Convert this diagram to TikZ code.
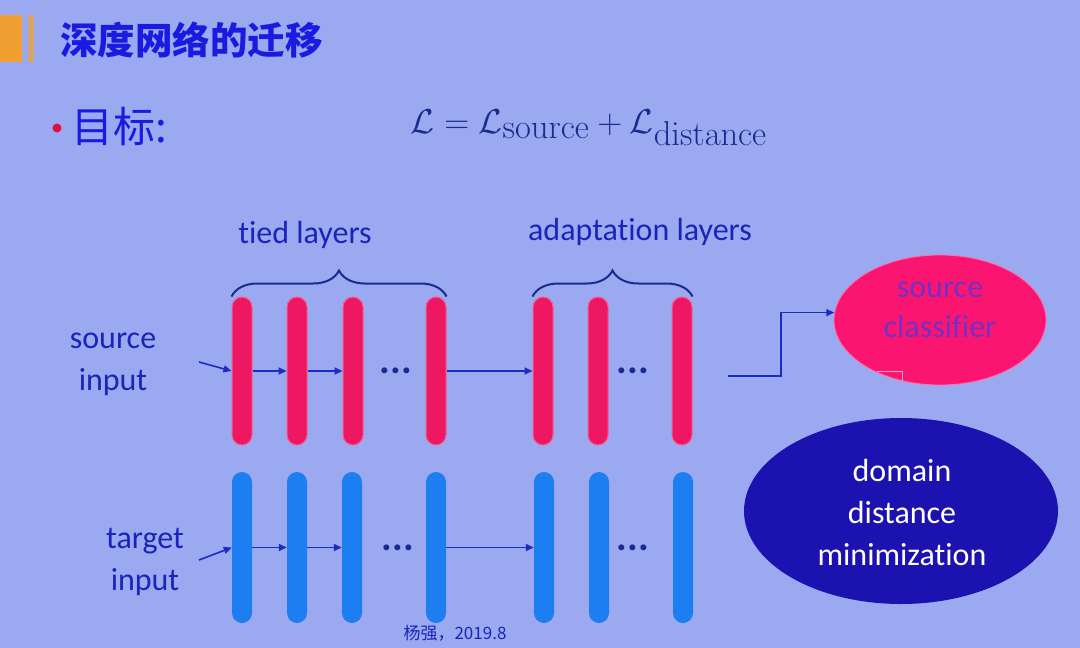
\documentclass[tikz,border=0pt]{standalone}
\usepackage[no-math]{fontspec}
\setmainfont{Carlito}[Ligatures=NoCommon]
\newfontfamily\cjk{Noto Sans CJK SC}
\usetikzlibrary{arrows.meta,decorations.pathreplacing,calc,shapes.geometric}
\definecolor{bg}{HTML}{9BA9F0}
\definecolor{rbarc}{HTML}{EE1862}
\definecolor{bbarc}{HTML}{1C7EF0}
\definecolor{txtb}{HTML}{1E22B8}
\definecolor{navy}{HTML}{1C2A90}
\definecolor{ttl}{HTML}{1A1AE0}
\definecolor{sclc}{HTML}{FA1670}
\definecolor{sctc}{HTML}{7430C4}
\definecolor{ddmc}{HTML}{1C12B0}
\definecolor{arrc}{HTML}{1A2CC4}
\definecolor{orgc}{HTML}{F0A030}
\definecolor{bulc}{HTML}{E01040}
\tikzset{
  redbar/.style={fill=rbarc, draw=rbarc!70!white, line width=1, rounded corners=10,
    minimum width=20, minimum height=148, inner sep=0},
  bluebar/.style={fill=bbarc, rounded corners=10,
    minimum width=20, minimum height=151, inner sep=0},
  lbl/.style={text=txtb, font=\fontsize{32}{42}\selectfont, align=center, inner sep=0},
  dotsn/.style={text=navy, font=\bfseries\fontsize{40}{40}\selectfont, inner sep=0},
  arr/.style={draw=arrc, line width=1.6, -{Triangle[length=8,width=7]}},
  bracest/.style={draw=navy, line width=2, decorate,
    decoration={brace, amplitude=26, aspect=0.5}},
}
\begin{document}
\begin{tikzpicture}[x=1pt,y=-1pt]
\fill[bg] (0,0) rectangle (1080,648);
\useasboundingbox (0,0) rectangle (1080,648);
% title bar
\fill[orgc] (0,15) rectangle (22,62);
\fill[orgc!70!bg] (28,15) rectangle (34,62);
\node[anchor=west, text=ttl, font=\cjk\bfseries\fontsize{37.5}{40}\selectfont, inner sep=0] (title) at (60,40) {深度网络的迁移};
% goal
\node[circle, fill=bulc, minimum size=9, inner sep=0] (bullet) at (57,128) {};
\node[anchor=west, text=ttl, font=\cjk\fontsize{42}{44}\selectfont, inner sep=0] (goal) at (71,127) {目标:};
\node[text=navy, font=\fontsize{37}{40}\selectfont, inner sep=0, scale=1.39] (formula) at (589,128)
  {$\mathcal{L}=\mathcal{L}_{\mathrm{source}}+\mathcal{L}_{\mathrm{distance}}$};
% group labels
\node[lbl] (tied) at (305,235) {tied layers};
\node[lbl] (adapt) at (640,232) {adaptation layers};
% source row
\node[redbar] (r1) at (242,371) {};
\node[redbar] (r2) at (297,371) {};
\node[redbar] (r3) at (353,371) {};
\node[redbar] (r4) at (436,371) {};
\node[redbar] (r5) at (543,371) {};
\node[redbar] (r6) at (598,371) {};
\node[redbar] (r7) at (682,371) {};
\node[dotsn] (rd1) at (396,371) {...};
\node[dotsn] (rd2) at (633,371) {...};
% target row
\node[bluebar] (b1) at (242,547.5) {};
\node[bluebar] (b2) at (297,547.5) {};
\node[bluebar] (b3) at (352,547.5) {};
\node[bluebar] (b4) at (436,547.5) {};
\node[bluebar] (b5) at (544,547.5) {};
\node[bluebar] (b6) at (599,547.5) {};
\node[bluebar] (b7) at (683,547.5) {};
\node[dotsn] (bd1) at (398,548) {...};
\node[dotsn] (bd2) at (633,548) {...};
% braces
\draw[bracest] (r1.north west) -- (r4.north east);
\draw[bracest] (r5.north west) -- (r7.north east);
% input labels
\node[lbl] (srcin) at (113,364) {source\\input};
\node[lbl] (tgtin) at (145,561.5) {target\\input};
% arrows source row
\coordinate (sin) at (199,362);
\draw[arr] (sin) -- (r1.west);
\draw[arr] (r1) -- (r2);
\draw[arr] (r2) -- (r3);
\draw[arr] (r4) -- (r5);
% arrows target row
\coordinate (tin) at (199,560);
\draw[arr] (tin) -- (b1.west);
\draw[arr] (b1) -- (b2);
\draw[arr] (b2) -- (b3);
\draw[arr] (b4) -- (b5);
% ellipses
\node[ellipse, fill=sclc, draw=sclc!60!white, line width=0.8, minimum width=212, minimum height=130, inner sep=0] (sc) at (940,320) {};
\node[text=sctc, font=\fontsize{32}{40}\selectfont, align=center, inner sep=0] (sctext) at (940,310) {source\\classifier};
\draw[sclc!40!white, line width=1] (877,371.5) -- (902,371.5) -- (902,381);
\node[ellipse, fill=ddmc, minimum width=314, minimum height=186, inner sep=0] (dd) at (901,511) {};
\node[text=white, font=\fontsize{32}{42}\selectfont, align=center, inner sep=0] (ddtext) at (902,513) {domain\\distance\\minimization};
% arrow to classifier
\coordinate (cs) at (728,376);
\draw[arr] (cs) -- ++(53,0) |- (sc.176);
% footer
\node[text=txtb, font=\cjk\fontsize{17}{18}\selectfont, inner sep=0] (foot) at (455,633) {杨强，2019.8};
\end{tikzpicture}
\end{document}
